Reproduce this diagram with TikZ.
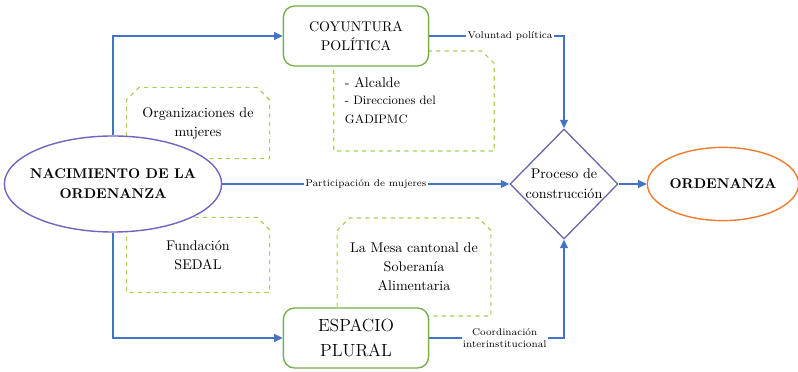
\documentclass[tikz,border=0pt]{standalone}
\usetikzlibrary{shapes.geometric,shapes.misc,arrows.meta}

\definecolor{azul}{RGB}{68,114,196}
\definecolor{verde}{RGB}{120,175,80}
\definecolor{verdeclaro}{RGB}{170,205,90}
\definecolor{morado}{RGB}{115,100,195}
\definecolor{rombo}{RGB}{100,100,170}
\definecolor{naranja}{RGB}{237,125,49}

\tikzset{
  flecha/.style={draw=azul, line width=1.1pt, -{Triangle[length=6pt,width=5.5pt]}},
  eje/.style={draw=verde, line width=1pt, rounded corners=8pt, fill=white, align=center,
    minimum width=3.63cm, minimum height=1.5cm},
  actor/.style={draw=verdeclaro, dashed, line width=0.8pt, chamfered rectangle,
    chamfered rectangle corners={north west,north east}, chamfered rectangle xsep=6pt,
    align=center, font=\fontsize{10}{13.5}\selectfont},
  etiqueta/.style={fill=white, inner sep=1pt, font=\fontsize{7}{8.5}\selectfont}
}

\begin{document}
\begin{tikzpicture}[x=0.025cm, y=-0.025cm]
    \useasboundingbox (0,0) rectangle (798,372);

    % actores de apoyo
    \node[actor, minimum width=3.58cm, minimum height=1.78cm] (org) at (198,123) {Organizaciones de\\mujeres};
    \node[actor, minimum width=3.58cm, minimum height=1.88cm] (fun) at (198,255) {Fundación\\SEDAL};
    \node[actor, minimum width=3.63cm, minimum height=2.5cm, text width=3.45cm, inner xsep=2pt, align=flush left] (alc) at (414,101)
        {- Alcalde\\[1.5pt]{\fontsize{8.7}{10.5}\selectfont - Direcciones del\\GADIPMC}};
    \node[actor, minimum width=3.63cm, minimum height=2.45cm] (mesa) at (414,267) {La Mesa cantonal de\\Soberanía\\Alimentaria};

    % ejes
    \node[eje, font=\fontsize{10}{14}\selectfont] (coy) at (356,36) {COYUNTURA\\POLÍTICA};
    \node[eje, font=\fontsize{12.5}{18}\selectfont] (esp) at (356,338) {ESPACIO\\PLURAL};

    \node[ellipse, draw=morado, line width=1pt, fill=white, minimum width=5.43cm, minimum height=2.4cm,
        label={[font=\bfseries\fontsize{10}{14}\selectfont, align=center]center:NACIMIENTO DE LA\\ORDENANZA}] (nac) at (113,184) {};
    \node[diamond, draw=rombo, line width=0.9pt, minimum width=2.7cm, minimum height=2.75cm,
        label={[font=\fontsize{10}{14}\selectfont, align=center]center:Proceso de\\construcción}] (pro) at (564,184) {};
    \node[ellipse, draw=naranja, line width=1pt, minimum width=3.5cm, minimum height=1.83cm,
        font=\bfseries\fontsize{10}{14}\selectfont, inner sep=0pt] (ord) at (723,184) {ORDENANZA};

    % conexiones
    \draw[flecha] (nac.north) |- (coy.west);
    \draw[flecha] (nac.south) |- (esp.west);
    \draw[flecha] (nac.east) -- node[etiqueta] {Participación de mujeres} (pro.west);
    \draw[flecha] (coy.east) -| node[etiqueta, pos=0.3] {Voluntad política} (pro.north);
    \draw[flecha] (esp.east) -| node[etiqueta, pos=0.28, align=center] {Coordinación\\interinstitucional} (pro.south);
    \draw[flecha] (pro.east) -- (ord.west);
\end{tikzpicture}
\end{document}
